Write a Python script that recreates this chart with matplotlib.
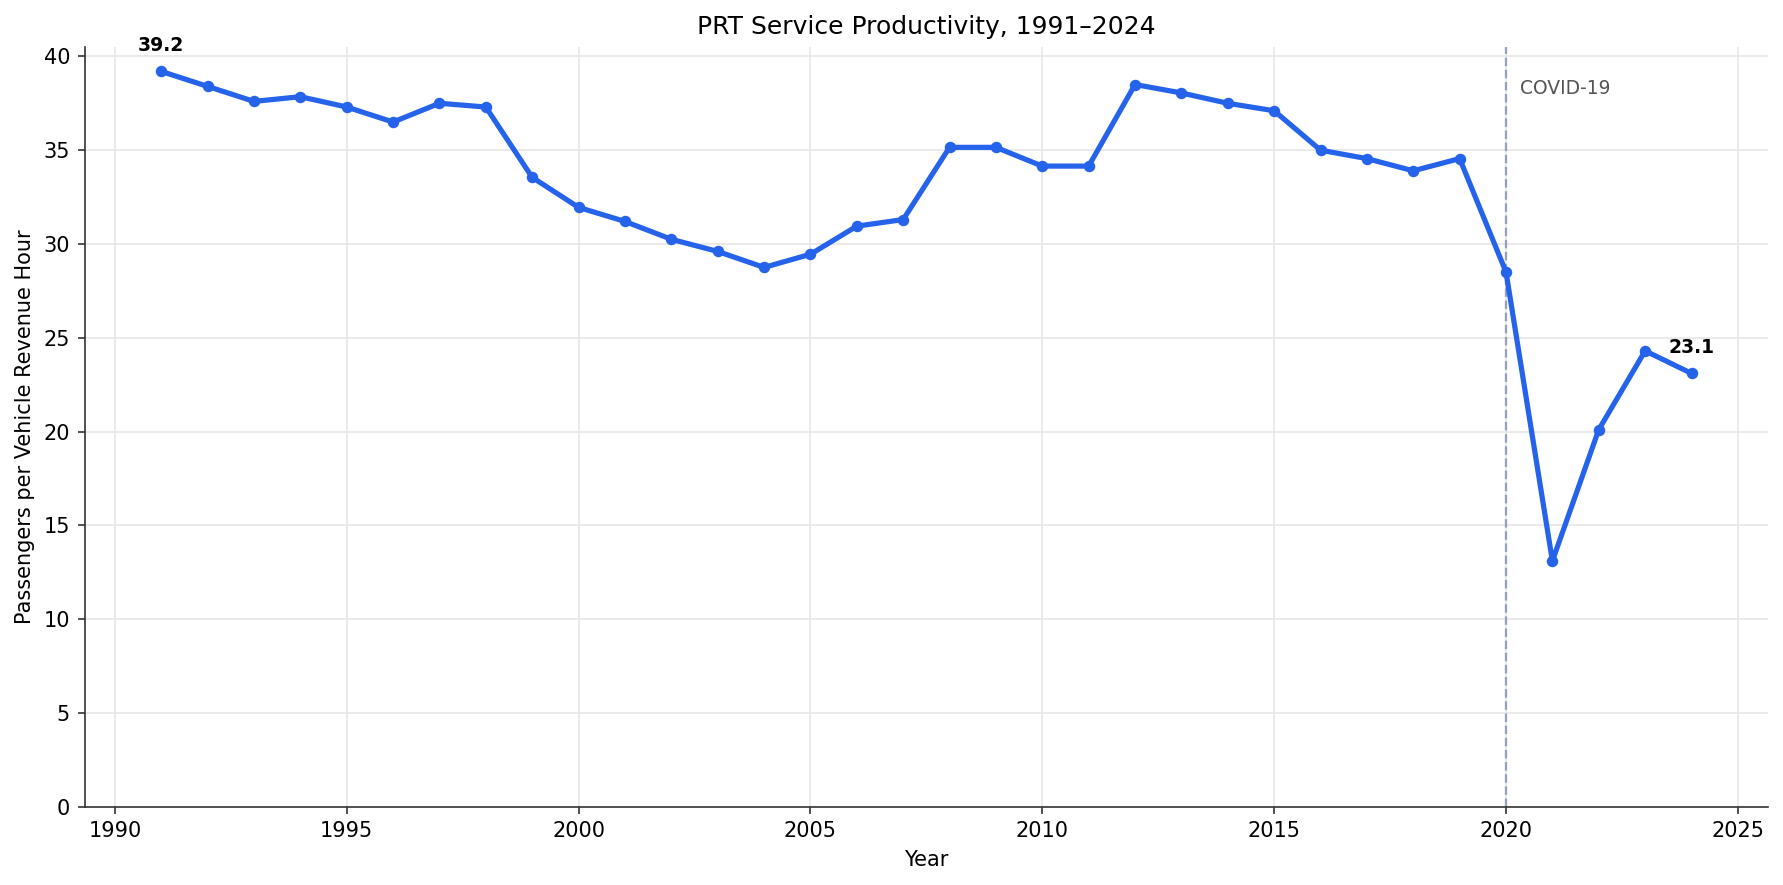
import matplotlib
matplotlib.use("Agg")
import matplotlib.pyplot as plt

years = list(range(1991, 2025))
values = [39.2, 38.4, 37.6, 37.85, 37.3, 36.5, 37.5, 37.3, 33.55, 31.95,
          31.2, 30.25, 29.6, 28.75, 29.45, 30.95, 31.3, 35.15, 35.15, 34.15,
          34.15, 38.5, 38.05, 37.5, 37.1, 35.0, 34.55, 33.9, 34.55, 28.5,
          13.1, 20.1, 24.3, 23.1]

title = "PRT Service Productivity, 1991\u20132024"
xlabel = "Year"
ylabel = "Passengers per Vehicle Revenue Hour"
event_year = 2020
event_label = "COVID-19"

fig = plt.figure(figsize=(1783/150, 885/150), dpi=150)
ax = fig.add_axes([0.0475, 0.0885, 0.9441, 0.8585])

ax.plot(years, values, color="#2563eb", linewidth=2.5, marker="o", markersize=4.5, zorder=3)
ax.axvline(event_year, color="#94a3b8", linestyle="--", linewidth=1.1, zorder=2)
ax.text(event_year + 0.3, 38.3, event_label, color="#555555", fontsize=9, va="center", ha="left")

ax.annotate(f"{values[0]:.1f}", (years[0], values[0]), xytext=(0, 8),
            textcoords="offset points", ha="center", va="bottom", fontsize=9, fontweight="bold")
ax.annotate(f"{values[-1]:.1f}", (years[-1], values[-1]), xytext=(0, 8),
            textcoords="offset points", ha="center", va="bottom", fontsize=9, fontweight="bold")

ax.set_ylim(bottom=0)
ax.grid(True, color="#e6e6e6", linewidth=0.8)
ax.set_axisbelow(True)
for s in ["top", "right"]:
    ax.spines[s].set_visible(False)
for s in ["left", "bottom"]:
    ax.spines[s].set_color("#333333")
ax.tick_params(color="#333333")
ax.set_title(title, fontsize=12)
ax.set_xlabel(xlabel, fontsize=10)
ax.set_ylabel(ylabel, fontsize=10)

fig.savefig("out.png", dpi=150)
